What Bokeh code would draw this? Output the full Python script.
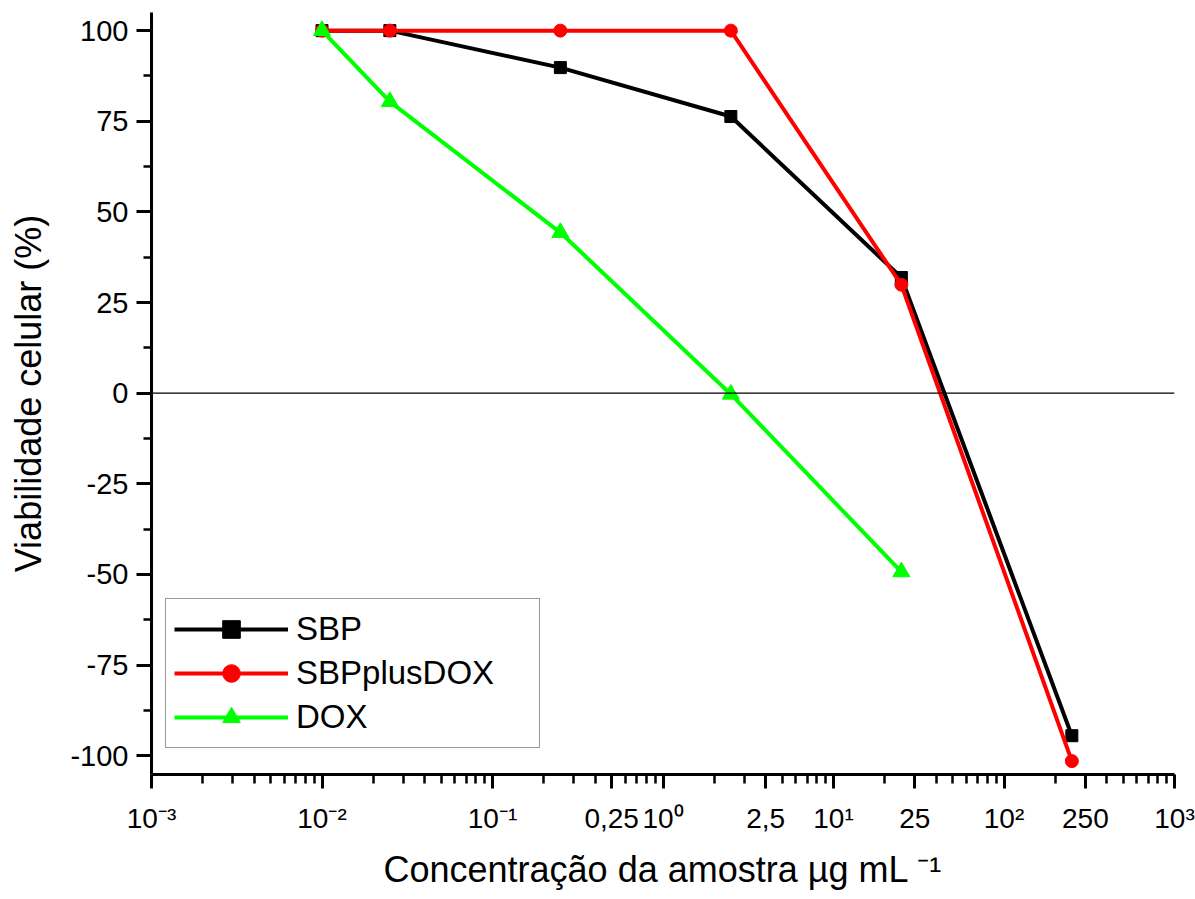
from bokeh.plotting import figure
from bokeh.models import (Range1d, SingleIntervalTicker, FixedTicker,
                          Span, Legend, LegendItem)
from bokeh.embed import file_html
from bokeh.resources import INLINE

# ---- data ----
conc_sbp = [0.01, 0.025, 0.25, 2.5, 25, 250]
viab_sbp = [100, 100, 89.8, 76.3, 31.9, -94.5]

conc_sbpdox = [0.01, 0.025, 0.25, 2.5, 25, 250]
viab_sbpdox = [100, 100, 100, 100, 29.9, -101.5]

conc_dox = [0.01, 0.025, 0.25, 2.5, 25]
viab_dox = [100, 80.4, 44.3, -0.3, -49.3]

series_names = ["SBP", "SBPplusDOX", "DOX"]

y_ticks = [-100, -75, -50, -25, 0, 25, 50, 75, 100]
x_decades = [1e-3, 1e-2, 1e-1, 1e0, 1e1, 1e2, 1e3]
x_decade_labels = ["10⁻³", "10⁻²", "10⁻¹", "10⁰", "10¹", "10²", "10³"]

extra_labels = ["0,25", "2,5", "25", "250"]
extra_label_x = [0.5, 4.0, 30.0, 300.0]

FONT = "Liberation Sans"
Y_MIN, Y_MAX = -105.2, 105.0

p = figure(x_axis_type="log", output_backend="svg", toolbar_location=None,
           frame_width=1023, frame_height=762,
           min_border_left=151, min_border_right=21, min_border_top=12, min_border_bottom=117,
           x_range=Range1d(x_decades[0], x_decades[-1]), y_range=Range1d(Y_MIN, Y_MAX),
           background_fill_color="white", border_fill_color="white")
p.outline_line_color = None
p.grid.visible = False

# zero line
p.add_layout(Span(location=0, dimension="width", line_color="black", line_width=1.2))

r1l = p.line(conc_sbp, viab_sbp, line_color="black", line_width=4)
r1m = p.scatter(conc_sbp, viab_sbp, marker="square", size=12, fill_color="black", line_color="black")
r2l = p.line(conc_sbpdox, viab_sbpdox, line_color="#ff0000", line_width=4)
r2m = p.scatter(conc_sbpdox, viab_sbpdox, marker="circle", size=13, fill_color="#ff0000", line_color="#ff0000")
r3l = p.line(conc_dox, viab_dox, line_color="#00ff00", line_width=4)
r3m = p.scatter(conc_dox, viab_dox, marker="triangle", size=17, fill_color="#00ff00", line_color="#00ff00")

# axes
minor_x = [m * d for d in x_decades[:-1] for m in range(2, 10)]
xa = p.xaxis[0]
xa.ticker = FixedTicker(ticks=x_decades + extra_label_x, minor_ticks=minor_x)
overrides = {float(v): t for v, t in zip(x_decades, x_decade_labels)}
overrides.update({float(v): t for v, t in zip(extra_label_x, extra_labels)})
xa.major_label_overrides = overrides
ya = p.yaxis[0]
ya.ticker = SingleIntervalTicker(interval=25, num_minor_ticks=2)
ya.major_label_overrides = {float(v): str(v) for v in y_ticks}

for ax in (xa, ya):
    ax.axis_line_width = 3
    ax.axis_line_color = "black"
    ax.major_tick_line_width = 3
    ax.minor_tick_line_width = 2.5
    ax.major_tick_line_color = "black"
    ax.minor_tick_line_color = "black"
    ax.major_tick_in = 0
    ax.minor_tick_in = 0
    ax.major_label_text_font = FONT
    ax.major_label_text_color = "black"
    ax.axis_label_text_font = FONT
    ax.axis_label_text_font_size = "36px"
    ax.axis_label_text_font_style = "normal"
    ax.axis_label_text_color = "black"

xa.major_label_text_font_size = "28px"
ya.major_label_text_font_size = "29px"

xa.major_tick_out = 14
xa.minor_tick_out = 9
xa.major_label_standoff = 14
xa.axis_label_standoff = 12
xa.axis_label = "Concentração da amostra µg mL ⁻¹"

ya.major_tick_out = 15
ya.minor_tick_out = 8
ya.major_label_standoff = 8
ya.axis_label_standoff = 18
ya.axis_label = "Viabilidade celular (%)"

legend = Legend(items=[
    LegendItem(label=series_names[0], renderers=[r1l, r1m]),
    LegendItem(label=series_names[1], renderers=[r2l, r2m]),
    LegendItem(label=series_names[2], renderers=[r3l, r3m]),
], location=(14, 26))
legend.label_text_font = FONT
legend.label_text_font_size = "33px"
legend.label_text_color = "black"
legend.glyph_width = 114
legend.glyph_height = 44
legend.label_height = 44
legend.label_width = 235
legend.label_standoff = 8
legend.padding = 8
legend.spacing = 0
legend.margin = 0
legend.border_line_color = "#333333"
legend.border_line_width = 1.5
legend.background_fill_color = "white"
legend.background_fill_alpha = 1.0
p.add_layout(legend)

open("out.html", "w").write(file_html(p, INLINE))
